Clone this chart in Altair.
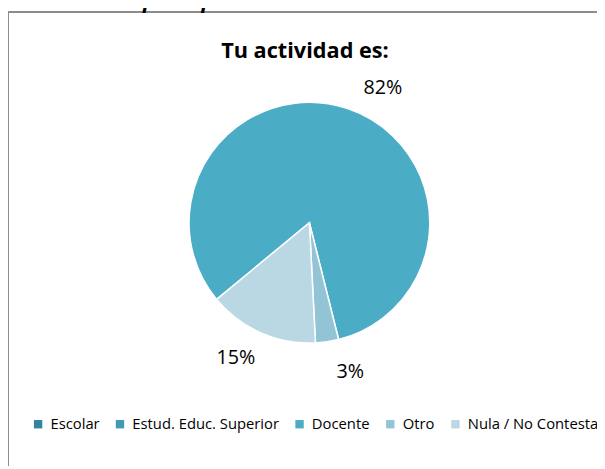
import math
import altair as alt
import pandas as pd

# ---- data ----
categories = ["Escolar", "Estud. Educ. Superior", "Docente", "Otro", "Nula / No Contesta"]
values = [0, 0, 82.1, 3.1, 14.8]
order_idx = [0, 1, 2, 3, 4]
chart_title = "Tu actividad es:"
outer_title = "Distribución por Tipo de Actividad"

# ---- styling ----
colors = ["#31849B", "#3F9AB2", "#4BACC6", "#92C4D6", "#BAD7E4"]
W, H = 597, 461
CX, CY = 305.5, 214.5
R = 122
start = math.radians(230.4)
theta_scale = alt.Scale(domain=[0, 100], range=[start, start + 2 * math.pi])
FONT = "Open Sans"

df = pd.DataFrame({"cat": categories, "value": values, "idx": order_idx})
base = alt.Chart(df)

pie = base.mark_arc(outerRadius=R, stroke="white", strokeWidth=1.5).encode(
    theta=alt.Theta("value:Q", stack=True, scale=theta_scale),
    color=alt.Color(
        "cat:N",
        scale=alt.Scale(domain=categories, range=colors),
        legend=alt.Legend(
            orient="none", legendX=23, legendY=411, direction="horizontal",
            title=None, symbolType="square", symbolSize=72, symbolStrokeWidth=0,
            labelFont=FONT, labelFontSize=15, labelColor="#000000", labelOffset=5,
            columnPadding=13, padding=0, labelLimit=400,
        ),
    ),
    order=alt.Order("idx:Q"),
    x=alt.value(CX),
    y=alt.value(CY),
)

label_base = base.transform_window(
    cum="sum(value)", sort=[alt.SortField("idx")], frame=[None, 0]
).transform_calculate(
    mid="datum.cum - datum.value / 2",
    pct="format(datum.value / 100, '.0%')",
)

offsets = {"Docente": (27, 8), "Otro": (19, 1), "Nula / No Contesta": (-13, -2)}
label_layers = []
for cat, (dx, dy) in offsets.items():
    label_layers.append(
        label_base.transform_filter(alt.datum.cat == cat)
        .mark_text(radius=152.5, dx=dx, dy=dy, font=FONT, fontSize=20, color="#000000")
        .encode(
            theta=alt.Theta("mid:Q", stack=False, scale=theta_scale),
            text="pct:N",
            x=alt.value(CX),
            y=alt.value(CY),
        )
    )

one = alt.Chart(pd.DataFrame({"a": [0]}))
title_mark = one.mark_text(font=FONT, fontSize=22, fontWeight="bold", color="#000000").encode(
    x=alt.value(301), y=alt.value(41), text=alt.value(chart_title)
)
outer = one.mark_text(font=FONT, fontSize=22, fontWeight="bold", fontStyle="italic",
                      align="left", baseline="alphabetic", color="#000000").encode(
    x=alt.value(5), y=alt.value(-3), text=alt.value(outer_title)
)
top_rule = one.mark_rule(color="#8C8C8C", strokeWidth=2).encode(
    x=alt.value(0), x2=alt.value(W), y=alt.value(1)
)
left_rule = one.mark_rule(color="#8C8C8C", strokeWidth=2).encode(
    x=alt.value(0), y=alt.value(0), y2=alt.value(H)
)

chart = alt.layer(top_rule, left_rule, pie, *label_layers, title_mark, outer).properties(
    width=W, height=H, autosize=alt.AutoSizeParams(type="none"), padding=0
).configure_view(stroke=None)

chart.save("out.html", embed_options={"renderer": "svg", "actions": False})
